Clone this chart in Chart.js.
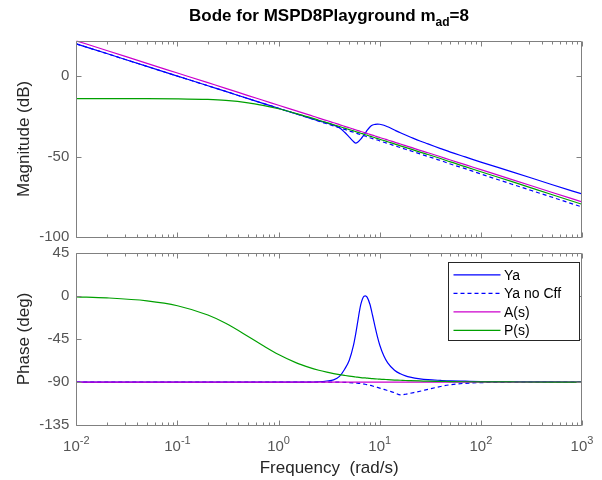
<!DOCTYPE html>
<html>
<head>
<meta charset="utf-8">
<script src="https://cdn.jsdelivr.net/npm/chart.js@4.4.1/dist/chart.umd.min.js"></script>
<style>
  html, body { margin: 0; padding: 0; background: #fff; }
  #wrap { position: relative; width: 602px; height: 480px; background: #fff; overflow: hidden; }
  #title {
    position: absolute; left: 76px; width: 506px; top: 6px;
    text-align: center; color: #000; line-height: 20px;
    font: bold 17px 'Liberation Sans', Arial, sans-serif;
  }
  #title sub { font-size: 12px; line-height: 0; vertical-align: baseline; position: relative; top: 5px; }
  canvas { position: absolute; left: 0; }
  #magChart { top: 0; }
  #phaseChart { top: 235px; }
</style>
</head>
<body>
<div id="wrap">
  <canvas id="magChart" width="602" height="260"></canvas>
  <canvas id="phaseChart" width="602" height="245"></canvas>
  <div id="title">Bode for MSPD8Playground m<sub>ad</sub>=8</div>
</div>
<script>
// frequency samples (rad/s)
const freq = [0.01, 0.02, 0.05, 0.1, 0.2, 0.3, 0.5, 0.7, 1, 1.5, 2, 2.5, 3, 3.5, 4, 4.5, 5, 5.5, 5.8, 6,
  6.5, 7, 7.2, 7.5, 8, 8.5, 9, 9.5, 10, 11, 12, 14, 16, 18, 20, 25, 30, 40, 50, 70, 100, 200, 500, 1000];

// magnitude (dB)
const magYa = [20.1, 14.1, 6.1, 0.1, -5.9, -9.4, -13.9, -16.8, -19.9, -23.4, -25.8, -27.7, -29.0, -30.3, -32.0,
  -34.8, -37.8, -40.5, -41.5, -41.2, -39.0, -36.3, -35.3, -33.6, -31.5, -30.3, -29.9, -29.7, -29.8, -30.4, -31.4,
  -33.4, -35.1, -36.5, -37.7, -40.2, -42.0, -44.9, -47.1, -50.1, -53.3, -59.2, -67.2, -73.1];
const magYaNoCff = [20.1, 14.1, 6.1, 0.1, -5.9, -9.4, -13.9, -16.8, -19.9, -23.4, -25.9, -27.9, -29.5, -30.8, -32.0,
  -33.0, -34.0, -34.8, -35.3, -35.6, -36.3, -36.9, -37.1, -37.6, -38.2, -38.7, -39.2, -39.6, -40.1, -41.0, -41.7,
  -43.1, -44.3, -45.3, -46.2, -48.2, -49.8, -52.3, -54.5, -57.4, -60.7, -66.9, -75.0, -81.2];
const magA = [22.0, 16.0, 8.0, 2.0, -4.0, -7.5, -12.0, -14.9, -18.0, -21.5, -24.0, -26.0, -27.5, -28.9, -30.0,
  -31.1, -32.0, -32.8, -33.3, -33.6, -34.3, -34.9, -35.1, -35.5, -36.1, -36.6, -37.1, -37.6, -38.0, -38.8, -39.6,
  -40.9, -42.1, -43.1, -44.0, -46.0, -47.5, -50.0, -52.0, -54.9, -58.0, -64.0, -72.0, -78.0];
const magP = [-13.9, -13.9, -13.9, -14.0, -14.4, -15.0, -16.5, -18.1, -20.2, -23.2, -25.4, -27.3, -28.8, -30.1, -31.2,
  -32.2, -33.1, -33.9, -34.4, -34.7, -35.4, -36.0, -36.3, -36.6, -37.2, -37.7, -38.2, -38.7, -39.1, -39.9, -40.7,
  -42.0, -43.2, -44.2, -45.1, -47.1, -48.6, -51.1, -53.2, -56.1, -59.3, -65.3, -73.4, -79.5];

// phase (deg)
const phaseYa = [-90, -90, -90, -90, -90, -90, -90, -90, -90, -90, -89.9, -89.6, -88.8, -87.6, -84.0,
  -76.5, -67.2, -51.7, -39.1, -29.7, -9.0, -0.3, 0.0, -1.3, -8.8, -20.5, -32.4, -42.8, -51.2, -62.8, -69.9,
  -77.6, -81.3, -83.4, -84.7, -86.5, -87.4, -88.2, -88.7, -89.0, -89.3, -89.6, -89.8, -89.9];
const phaseYaNoCff = [-90, -90, -90, -90, -90, -90, -90, -90, -90, -90, -90, -90, -90, -90, -90,
  -90.2, -90.4, -90.7, -90.9, -91.0, -91.5, -92.0, -92.2, -92.6, -93.3, -94.0, -94.8, -95.5, -96.2, -97.5, -98.8,
  -101.0, -103.3, -102.6, -101.6, -99.5, -97.5, -94.5, -92.7, -91.2, -90.5, -90.1, -90.0, -90.0];
const phaseA = [-90, -90, -90, -90, -90, -90, -90, -90, -90, -90, -90, -90, -90, -90, -90,
  -90, -90, -90, -90, -90, -90, -90, -90, -90, -90, -90, -90, -90, -90, -90, -90,
  -90, -90, -90, -90, -90, -90, -90, -90, -90, -90, -90, -90, -90];
const phaseP = [-1.0, -2.1, -5.2, -10.3, -20.0, -28.6, -42.3, -51.8, -61.2, -69.9, -74.6, -77.6, -79.6, -81.1, -82.2,
  -83.0, -83.7, -84.3, -84.6, -84.8, -85.2, -85.5, -85.6, -85.8, -86.1, -86.3, -86.5, -86.7, -86.9, -87.1, -87.4,
  -87.8, -88.0, -88.3, -88.4, -88.7, -89.0, -89.2, -89.4, -89.6, -89.7, -89.8, -89.9, -90.0];

const seriesNames = ["Ya", "Ya no Cff", "A(s)", "P(s)"];
const freqTicks = [0.01, 0.1, 1, 10, 100, 1000];
const freqTickLabels = [["10", "-2"], ["10", "-1"], ["10", "0"], ["10", "1"], ["10", "2"], ["10", "3"]];
const magTicks = [-100, -50, 0];
const phaseTicks = [-135, -90, -45, 0, 45];

const FONT = "'Liberation Sans', Arial, sans-serif";
const axisColor = "#808080";
const tickTextColor = "#555";
const labelColor = "#262626";
Chart.defaults.font.family = FONT;

const toPoints = (ys) => freq.map((f, i) => ({ x: f, y: ys[i] }));

const makeDatasets = (ya, yaNo, a, p) => [
  { label: seriesNames[0], data: toPoints(ya), borderColor: "#0000ff", borderWidth: 1.2, order: 4 },
  { label: seriesNames[1], data: toPoints(yaNo), borderColor: "#0000ff", borderWidth: 1.2, borderDash: [4, 3], order: 3 },
  { label: seriesNames[2], data: toPoints(a), borderColor: "#cc00cc", borderWidth: 1.2, order: 2 },
  { label: seriesNames[3], data: toPoints(p), borderColor: "#00a000", borderWidth: 1.2, order: 1 }
];

// box round the axes with inward ticks, like MATLAB
const axisFrame = {
  id: "axisFrame",
  afterDraw(chart) {
    const { ctx, chartArea: area, scales: { x, y } } = chart;
    const L = Math.round(area.left) + 0.5, R = Math.round(area.right) - 0.5;
    const T = Math.round(area.top) + 0.5, B = Math.round(area.bottom) + 0.5;
    ctx.save();
    ctx.strokeStyle = axisColor;
    ctx.lineWidth = 1;
    ctx.beginPath();
    ctx.rect(L, T, R - L, B - T);
    freqTicks.forEach((d) => {
      for (let m = 1; m <= 9; m++) {
        const v = d * m;
        if (v > 1000) break;
        const px = Math.round(x.getPixelForValue(v)) + 0.5;
        const len = m === 1 ? 5 : 3;
        ctx.moveTo(px, B); ctx.lineTo(px, B - len);
        ctx.moveTo(px, T); ctx.lineTo(px, T + len);
      }
    });
    y.ticks.forEach((t) => {
      const py = Math.round(y.getPixelForValue(t.value)) + 0.5;
      ctx.moveTo(L, py); ctx.lineTo(L + 5, py);
      ctx.moveTo(R, py); ctx.lineTo(R - 5, py);
    });
    ctx.stroke();
    ctx.restore();
  }
};

// 10^n labels under the phase axes, exponent raised
const decadeLabels = {
  id: "decadeLabels",
  afterDraw(chart) {
    const { ctx, chartArea: area, scales: { x } } = chart;
    ctx.save();
    ctx.fillStyle = tickTextColor;
    ctx.textAlign = "left";
    ctx.textBaseline = "alphabetic";
    const by = area.bottom + 26;
    freqTicks.forEach((v, i) => {
      const [base, exp] = freqTickLabels[i];
      ctx.font = "15px " + FONT;
      const bw = ctx.measureText(base).width;
      ctx.font = "11px " + FONT;
      const ew = ctx.measureText(exp).width;
      const left = x.getPixelForValue(v) - (bw + ew) / 2;
      ctx.font = "15px " + FONT;
      ctx.fillText(base, left, by);
      ctx.font = "11px " + FONT;
      ctx.fillText(exp, left + bw, by - 7);
    });
    ctx.restore();
  }
};

// legend box inside the phase axes (top right)
const boxLegend = {
  id: "boxLegend",
  afterDraw(chart) {
    const { ctx, chartArea: area } = chart;
    const w = 131, h = 78;
    const x0 = Math.round(area.right - 3.3 - w) + 0.5;
    const y0 = Math.round(area.top + 9) + 0.5;
    ctx.save();
    ctx.fillStyle = "#fff";
    ctx.fillRect(x0, y0, w, h);
    ctx.strokeStyle = "#262626";
    ctx.lineWidth = 1;
    ctx.strokeRect(x0, y0, w, h);
    ctx.font = "14px " + FONT;
    ctx.textBaseline = "middle";
    ctx.textAlign = "left";
    chart.data.datasets.forEach((ds, i) => {
      const yy = y0 + 12.3 + i * 18.5;
      ctx.beginPath();
      ctx.strokeStyle = ds.borderColor;
      ctx.lineWidth = 1.2;
      ctx.setLineDash(ds.borderDash || []);
      ctx.moveTo(x0 + 5, yy);
      ctx.lineTo(x0 + 52, yy);
      ctx.stroke();
      ctx.setLineDash([]);
      ctx.fillStyle = "#000";
      ctx.fillText(ds.label, x0 + 55.5, yy + 1);
    });
    ctx.restore();
  }
};

const xScale = (showTitle, height) => ({
  type: "logarithmic",
  min: 0.01,
  max: 1000,
  grid: { display: false, drawTicks: false },
  border: { display: false },
  afterBuildTicks: (scale) => { scale.ticks = freqTicks.map((v) => ({ value: v })); },
  afterFit: (scale) => { scale.height = height; },
  ticks: { display: false, autoSkip: false },
  title: {
    display: showTitle,
    text: "Frequency  (rad/s)",
    color: labelColor,
    font: { size: 17 },
    padding: { top: 0, bottom: 1 }
  }
});

const yScale = (min, max, tickList, text) => ({
  type: "linear",
  min: min,
  max: max,
  grid: { display: false, drawTicks: false },
  border: { display: false },
  afterBuildTicks: (scale) => { scale.ticks = tickList.map((v) => ({ value: v })); },
  afterFit: (scale) => { scale.width = 76.3; },
  ticks: { padding: 7, color: tickTextColor, font: { size: 15 } },
  title: { display: true, text: text, color: labelColor, font: { size: 17 }, padding: { top: 14, bottom: 0 } }
});

const baseOptions = (padding, scales) => ({
  responsive: false,
  animation: false,
  events: [],
  layout: { padding: padding },
  elements: { point: { radius: 0 }, line: { cubicInterpolationMode: "monotone" } },
  plugins: { legend: { display: false }, tooltip: { enabled: false } },
  scales: scales
});

new Chart(document.getElementById("magChart").getContext("2d"), {
  type: "line",
  data: { datasets: makeDatasets(magYa, magYaNoCff, magA, magP) },
  options: baseOptions({ left: 0, top: 40.5, right: 20, bottom: 22.7 }, {
    x: xScale(false, 0),
    y: yScale(-100, 22.2, magTicks, "Magnitude (dB)")
  }),
  plugins: [axisFrame]
});

new Chart(document.getElementById("phaseChart").getContext("2d"), {
  type: "line",
  data: { datasets: makeDatasets(phaseYa, phaseYaNoCff, phaseA, phaseP) },
  options: baseOptions({ left: 0, top: 17.7, right: 20, bottom: 0 }, {
    x: xScale(true, 54.7),
    y: yScale(-135, 45, phaseTicks, "Phase (deg)")
  }),
  plugins: [axisFrame, decadeLabels, boxLegend]
});
</script>
</body>
</html>
